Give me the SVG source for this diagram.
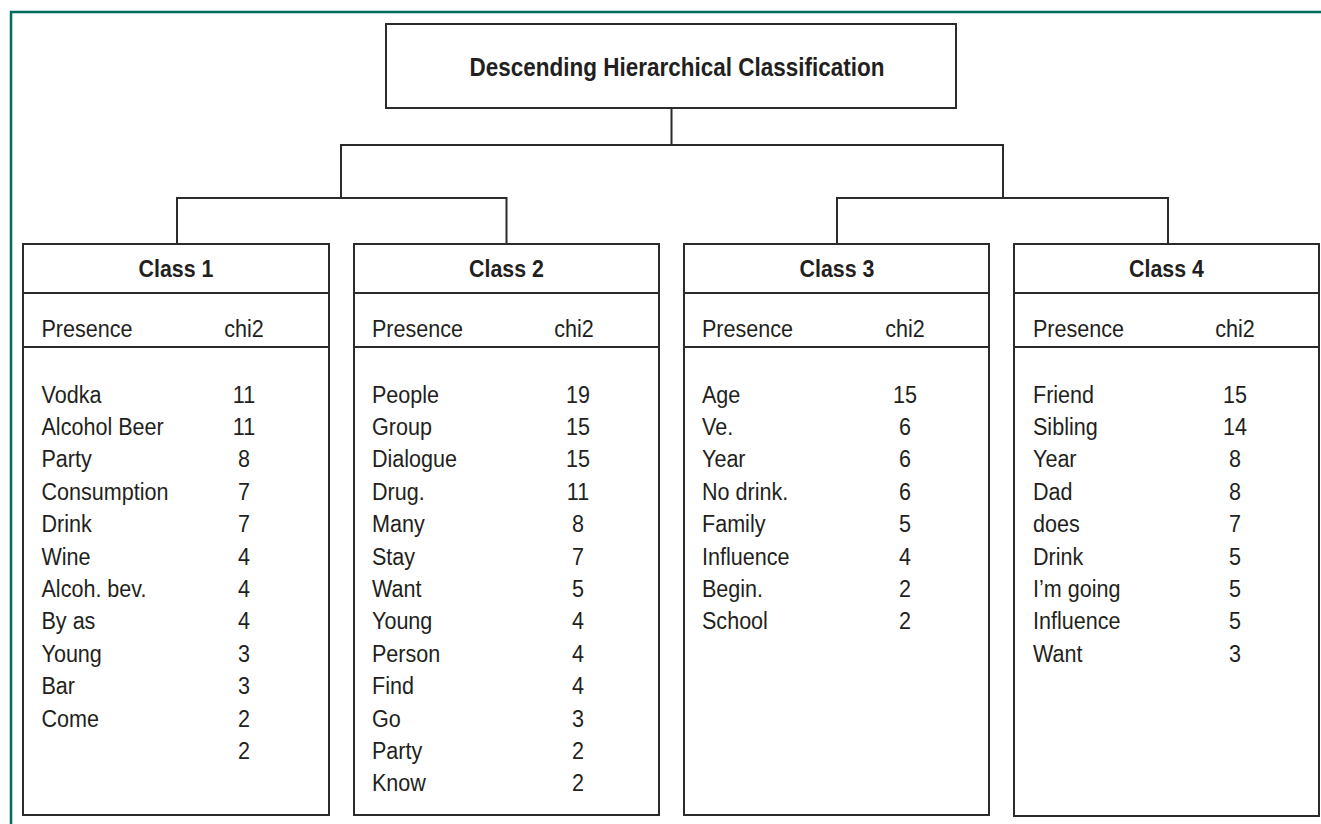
<svg xmlns="http://www.w3.org/2000/svg" width="1321" height="824" viewBox="0 0 1321 824">
<style>
.frame{fill:none;stroke:#006b5b;stroke-width:2.5}
.box{fill:#fff;stroke:#2b2b2b;stroke-width:2}
.div{stroke:#2b2b2b;stroke-width:2}
.conn{fill:none;stroke:#2b2b2b;stroke-width:2}
text{font-family:"Liberation Sans",Arial,sans-serif;fill:#231f20}
.title{font-size:26px;font-weight:bold;text-anchor:middle}
.hd{font-size:24px;font-weight:bold;text-anchor:middle}
.t{font-size:24.5px}
.n{font-size:24.5px;text-anchor:middle}
</style>
<rect class="frame" x="11" y="12" width="1400" height="900"/>
<g id="connectors">
<path class="conn" d="M671.5,108V145M341,198V145H1003V198M177,244V198H506.5V244M837,244V198H1168V244"/>
</g>
<g id="root">
<rect class="box" x="386" y="24" width="570" height="84"/>
<g transform="translate(677 0) scale(0.865 1)"><text class="title" x="0" y="76">Descending Hierarchical Classification</text></g>
</g>
<g id="class1">
<rect class="box" x="23" y="244" width="306" height="571"/>
<line class="div" x1="23" y1="293" x2="329" y2="293"/>
<line class="div" x1="23" y1="347" x2="329" y2="347"/>
<g transform="translate(176 0) scale(0.89 1)"><text class="hd" x="0" y="277">Class 1</text></g>
<g transform="translate(41.5 0) scale(0.88 1)">
<text class="t" x="0" y="337">Presence</text>
<text class="t" x="0" y="402.7">Vodka</text>
<text class="t" x="0" y="435.1">Alcohol Beer</text>
<text class="t" x="0" y="467.5">Party</text>
<text class="t" x="0" y="499.9">Consumption</text>
<text class="t" x="0" y="532.3">Drink</text>
<text class="t" x="0" y="564.7">Wine</text>
<text class="t" x="0" y="597.1">Alcoh. bev.</text>
<text class="t" x="0" y="629.5">By as</text>
<text class="t" x="0" y="661.9">Young</text>
<text class="t" x="0" y="694.3">Bar</text>
<text class="t" x="0" y="726.7">Come</text>
</g>
<g transform="translate(244 0) scale(0.88 1)">
<text class="n" x="0" y="337">chi2</text>
<text class="n" x="0" y="402.7">11</text>
<text class="n" x="0" y="435.1">11</text>
<text class="n" x="0" y="467.5">8</text>
<text class="n" x="0" y="499.9">7</text>
<text class="n" x="0" y="532.3">7</text>
<text class="n" x="0" y="564.7">4</text>
<text class="n" x="0" y="597.1">4</text>
<text class="n" x="0" y="629.5">4</text>
<text class="n" x="0" y="661.9">3</text>
<text class="n" x="0" y="694.3">3</text>
<text class="n" x="0" y="726.7">2</text>
<text class="n" x="0" y="759.1">2</text>
</g>
</g>
<g id="class2">
<rect class="box" x="354" y="244" width="305" height="571"/>
<line class="div" x1="354" y1="293" x2="659" y2="293"/>
<line class="div" x1="354" y1="347" x2="659" y2="347"/>
<g transform="translate(506.5 0) scale(0.89 1)"><text class="hd" x="0" y="277">Class 2</text></g>
<g transform="translate(372 0) scale(0.88 1)">
<text class="t" x="0" y="337">Presence</text>
<text class="t" x="0" y="402.7">People</text>
<text class="t" x="0" y="435.1">Group</text>
<text class="t" x="0" y="467.5">Dialogue</text>
<text class="t" x="0" y="499.9">Drug.</text>
<text class="t" x="0" y="532.3">Many</text>
<text class="t" x="0" y="564.7">Stay</text>
<text class="t" x="0" y="597.1">Want</text>
<text class="t" x="0" y="629.5">Young</text>
<text class="t" x="0" y="661.9">Person</text>
<text class="t" x="0" y="694.3">Find</text>
<text class="t" x="0" y="726.7">Go</text>
<text class="t" x="0" y="759.1">Party</text>
<text class="t" x="0" y="791.5">Know</text>
</g>
<g transform="translate(574 0) scale(0.88 1)"><text class="n" x="0" y="337">chi2</text></g>
<g transform="translate(578 0) scale(0.88 1)">
<text class="n" x="0" y="402.7">19</text>
<text class="n" x="0" y="435.1">15</text>
<text class="n" x="0" y="467.5">15</text>
<text class="n" x="0" y="499.9">11</text>
<text class="n" x="0" y="532.3">8</text>
<text class="n" x="0" y="564.7">7</text>
<text class="n" x="0" y="597.1">5</text>
<text class="n" x="0" y="629.5">4</text>
<text class="n" x="0" y="661.9">4</text>
<text class="n" x="0" y="694.3">4</text>
<text class="n" x="0" y="726.7">3</text>
<text class="n" x="0" y="759.1">2</text>
<text class="n" x="0" y="791.5">2</text>
</g>
</g>
<g id="class3">
<rect class="box" x="684" y="244" width="305" height="571"/>
<line class="div" x1="684" y1="293" x2="989" y2="293"/>
<line class="div" x1="684" y1="347" x2="989" y2="347"/>
<g transform="translate(837 0) scale(0.89 1)"><text class="hd" x="0" y="277">Class 3</text></g>
<g transform="translate(702 0) scale(0.88 1)">
<text class="t" x="0" y="337">Presence</text>
<text class="t" x="0" y="402.7">Age</text>
<text class="t" x="0" y="435.1">Ve.</text>
<text class="t" x="0" y="467.5">Year</text>
<text class="t" x="0" y="499.9">No drink.</text>
<text class="t" x="0" y="532.3">Family</text>
<text class="t" x="0" y="564.7">Influence</text>
<text class="t" x="0" y="597.1">Begin.</text>
<text class="t" x="0" y="629.5">School</text>
</g>
<g transform="translate(905 0) scale(0.88 1)">
<text class="n" x="0" y="337">chi2</text>
<text class="n" x="0" y="402.7">15</text>
<text class="n" x="0" y="435.1">6</text>
<text class="n" x="0" y="467.5">6</text>
<text class="n" x="0" y="499.9">6</text>
<text class="n" x="0" y="532.3">5</text>
<text class="n" x="0" y="564.7">4</text>
<text class="n" x="0" y="597.1">2</text>
<text class="n" x="0" y="629.5">2</text>
</g>
</g>
<g id="class4">
<rect class="box" x="1014" y="244" width="305" height="572"/>
<line class="div" x1="1014" y1="293" x2="1319" y2="293"/>
<line class="div" x1="1014" y1="347" x2="1319" y2="347"/>
<g transform="translate(1166.5 0) scale(0.89 1)"><text class="hd" x="0" y="277">Class 4</text></g>
<g transform="translate(1033 0) scale(0.88 1)">
<text class="t" x="0" y="337">Presence</text>
<text class="t" x="0" y="402.7">Friend</text>
<text class="t" x="0" y="435.1">Sibling</text>
<text class="t" x="0" y="467.5">Year</text>
<text class="t" x="0" y="499.9">Dad</text>
<text class="t" x="0" y="532.3">does</text>
<text class="t" x="0" y="564.7">Drink</text>
<text class="t" x="0" y="597.1">I’m going</text>
<text class="t" x="0" y="629.5">Influence</text>
<text class="t" x="0" y="661.9">Want</text>
</g>
<g transform="translate(1235 0) scale(0.88 1)">
<text class="n" x="0" y="337">chi2</text>
<text class="n" x="0" y="402.7">15</text>
<text class="n" x="0" y="435.1">14</text>
<text class="n" x="0" y="467.5">8</text>
<text class="n" x="0" y="499.9">8</text>
<text class="n" x="0" y="532.3">7</text>
<text class="n" x="0" y="564.7">5</text>
<text class="n" x="0" y="597.1">5</text>
<text class="n" x="0" y="629.5">5</text>
<text class="n" x="0" y="661.9">3</text>
</g>
</g>
</svg>
